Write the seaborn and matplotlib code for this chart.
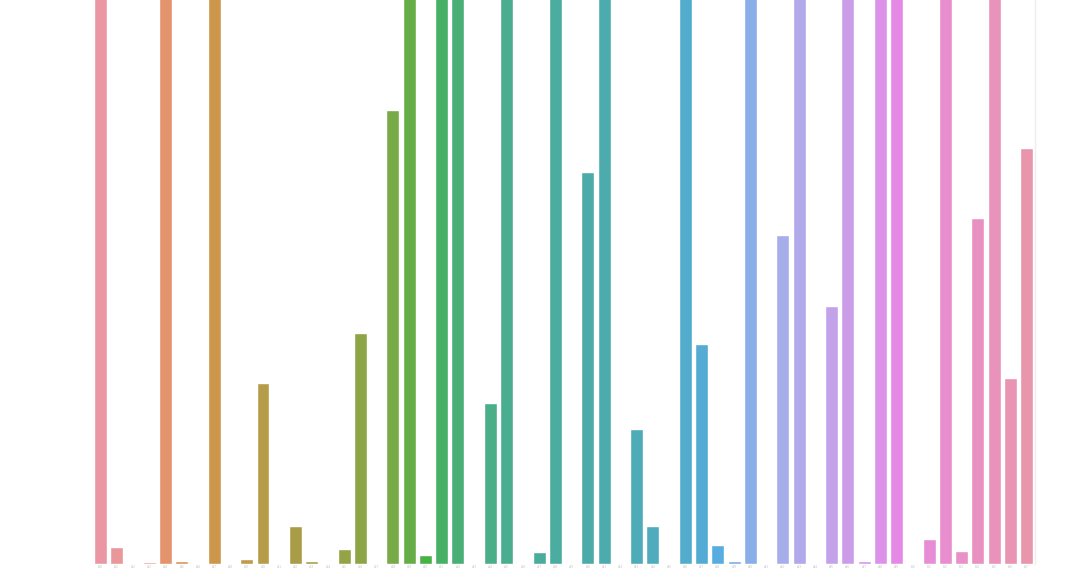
import matplotlib
matplotlib.use("Agg")
import matplotlib.pyplot as plt
import pandas as pd
import seaborn as sns

# Category labels (unreadable in the reference, tiny text under each slot)
categories = [f"c{i:02d}" for i in range(58)]

# Bar heights; bars marked 700 run past the top of the view
values = [700, 17, 0, 2, 700, 3.5, 1.5, 700, 0, 5,
          181, 0, 38, 3.5, 1.5, 15, 231, 0.5, 454, 700,
          9, 700, 700, 0.5, 161, 700, 1, 12, 700, 0,
          392, 700, 0, 135, 38, 0, 700, 220, 19, 3,
          700, 0, 329, 700, 0, 258, 700, 3, 700, 700,
          0, 25, 700, 13, 346, 700, 186, 416]

df = pd.DataFrame({"category": categories, "value": values})

sns.set_style("white")
fig = plt.figure(figsize=(10.9, 5.79), dpi=100)
ax = fig.add_axes([0.0848, 0.0259, 0.8644, 0.9741])

# lighter husl palette to match the washed-out colours of the reference
pal = sns.husl_palette(len(categories), l=0.7, s=0.9)
sns.barplot(data=df, x="category", y="value", hue="category",
            palette=pal, legend=False, ax=ax)

ax.set_ylim(0, 564)
ax.set_xlim(-0.5, len(categories) - 0.5)
ax.set_xlabel("")
ax.set_ylabel("")
ax.set_yticks([])
ax.tick_params(axis="x", length=0, pad=0.5, labelsize=2, labelcolor="#bbbbbb")

for side in ["left", "top", "bottom"]:
    ax.spines[side].set_visible(False)
ax.spines["right"].set_color("#eeeeee")
ax.spines["right"].set_linewidth(1)

fig.savefig("out.png", dpi=100)
